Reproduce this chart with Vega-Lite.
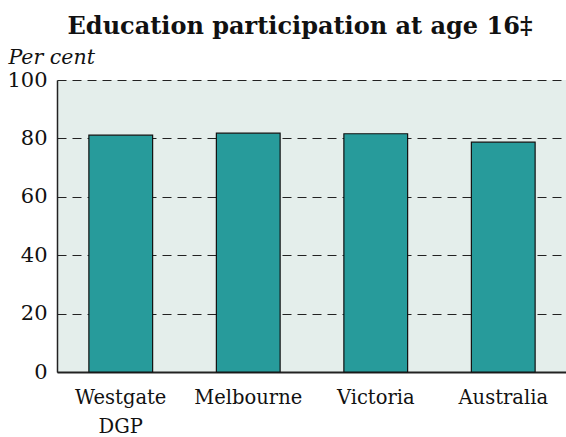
{
  "$schema": "https://vega.github.io/schema/vega-lite/v6.json",
  "width": 510,
  "height": 292,
  "autosize": {"type": "none"},
  "padding": {"left": 57, "top": 80, "right": 0, "bottom": 65},
  "background": "#ffffff",
  "title": {
    "text": "Education participation at age 16‡",
    "font": "DejaVu Serif",
    "fontSize": 24,
    "fontWeight": "bold",
    "color": "#111111",
    "anchor": "middle",
    "dx": -12,
    "dy": 14,
    "offset": 22
  },
  "data": {
    "values": [
      {"region": "Westgate DGP", "value": 81.1},
      {"region": "Melbourne", "value": 81.8},
      {"region": "Victoria", "value": 81.6},
      {"region": "Australia", "value": 78.7}
    ]
  },
  "config": {
    "view": {"fill": "#e4eeeb", "stroke": null},
    "font": "DejaVu Serif"
  },
  "mark": {"type": "bar", "color": "#279b9b", "stroke": "#111111", "strokeWidth": 1.2},
  "encoding": {
    "x": {
      "field": "region",
      "type": "nominal",
      "sort": null,
      "scale": {"paddingInner": 0.5, "paddingOuter": 0.25},
      "axis": {
        "title": null,
        "labelAngle": 0,
        "labelFontSize": 19.5,
        "labelColor": "#111111",
        "labelFont": "DejaVu Serif",
        "labelPadding": 16,
        "labelLineHeight": 29,
        "labelExpr": "datum.label == 'Westgate DGP' ? ['Westgate', 'DGP'] : datum.label",
        "ticks": false,
        "domain": true,
        "domainColor": "#222222",
        "domainWidth": 2,
        "grid": false
      }
    },
    "y": {
      "field": "value",
      "type": "quantitative",
      "scale": {"domain": [0, 100]},
      "axis": {
        "title": "Per cent",
        "titleAngle": 0,
        "titleAlign": "left",
        "titleBaseline": "alphabetic",
        "titleX": -49,
        "titleY": -17,
        "titleFont": "DejaVu Serif",
        "titleFontStyle": "italic",
        "titleFontWeight": "normal",
        "titleFontSize": 20.5,
        "titleColor": "#111111",
        "values": [0, 20, 40, 60, 80, 100],
        "labelFontSize": 21,
        "labelColor": "#111111",
        "labelFont": "DejaVu Serif",
        "labelPadding": 10,
        "ticks": false,
        "domain": true,
        "domainColor": "#222222",
        "domainWidth": 1.5,
        "grid": true,
        "gridColor": "#222222",
        "gridDash": [9, 6],
        "gridWidth": 1.2
      }
    }
  }
}
